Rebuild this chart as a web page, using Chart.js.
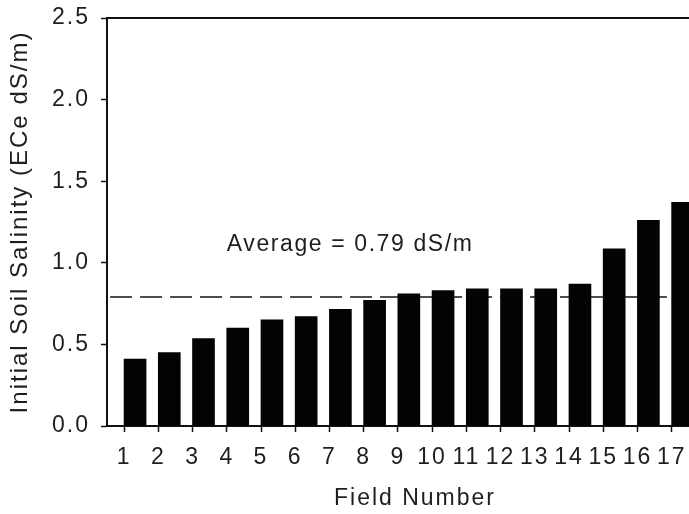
<!DOCTYPE html>
<html>
<head>
<meta charset="utf-8">
<script src="https://cdn.jsdelivr.net/npm/chart.js@4.4.1/dist/chart.umd.min.js"></script>
<style>
  html, body { margin: 0; padding: 0; background: #fff; overflow: hidden; }
  canvas { display: block; }
</style>
</head>
<body>
<!-- the original plot runs past the right edge of the picture, so the canvas is wider than the window -->
<canvas id="salinityChart" width="723" height="514"></canvas>
<script>
// field numbers and initial salinity (ECe dS/m)
const fieldNumbers = [1, 2, 3, 4, 5, 6, 7, 8, 9, 10, 11, 12, 13, 14, 15, 16, 17];
const salinityValues = [0.41, 0.45, 0.535, 0.60, 0.65, 0.67, 0.715, 0.77, 0.81, 0.83, 0.84, 0.84, 0.84, 0.87, 1.085, 1.26, 1.37];
const yTicks = [0, 0.5, 1.0, 1.5, 2.0, 2.5];

// average line and its label
const averageValue = 0.79;
const averageLineX = [0.59, 16.86];
const averageLabel = 'Average = 0.79 dS/m';
const averageLabelAt = { x: 4.0, y: 1.07 };

const textColor = '#1e1e1e';
const fontFamily = '"Liberation Sans", Arial, sans-serif';
const barShift = 0.32; // bars sit to the right of their tick in the original

// SigmaPlot-style wide letter spacing
const spacingPlugin = {
    id: 'spacing',
    beforeLayout(chart) { chart.ctx.letterSpacing = '2px'; },
    beforeDraw(chart) { chart.ctx.letterSpacing = '2px'; }
};

const averageTextPlugin = {
    id: 'averageText',
    afterDraw(chart) {
        const ctx = chart.ctx;
        const x = chart.scales.x.getPixelForValue(averageLabelAt.x);
        const y = chart.scales.y.getPixelForValue(averageLabelAt.y);
        ctx.save();
        ctx.letterSpacing = '1.6px';
        ctx.font = '23px ' + fontFamily;
        ctx.fillStyle = textColor;
        ctx.textAlign = 'left';
        ctx.textBaseline = 'alphabetic';
        ctx.fillText(averageLabel, x, y);
        ctx.restore();
    }
};

const ctx = document.getElementById('salinityChart').getContext('2d');
new Chart(ctx, {
    data: {
        datasets: [{
            type: 'bar',
            label: 'Initial salinity',
            data: fieldNumbers.map((f, i) => ({ x: f, y: salinityValues[i] })),
            xAxisID: 'xBar',
            yAxisID: 'y',
            backgroundColor: '#030303',
            borderWidth: 0,
            barThickness: 22,
            grouped: false,
            order: 0
        }, {
            type: 'line',
            label: 'Average',
            data: averageLineX.map(x => ({ x: x, y: averageValue })),
            xAxisID: 'x',
            yAxisID: 'y',
            borderColor: '#151515',
            borderWidth: 1.6,
            borderDash: [22, 8],
            pointRadius: 0,
            fill: false,
            order: 1
        }]
    },
    options: {
        responsive: false,
        animation: false,
        devicePixelRatio: 1,
        layout: { padding: { top: 18, left: 0, bottom: 0, right: 0 } },
        plugins: {
            legend: { display: false },
            tooltip: { enabled: false }
        },
        scales: {
            x: {
                type: 'linear',
                position: 'bottom',
                offset: false,
                min: 0.5,
                max: 18.5,
                afterBuildTicks: (scale) => { scale.ticks = fieldNumbers.map(v => ({ value: v })); },
                afterFit: (scale) => { scale.height = 88; },
                grid: { drawOnChartArea: false, drawTicks: true, tickLength: 6, tickColor: '#111', tickWidth: 1.5 },
                border: { display: true, color: '#111', width: 2 },
                ticks: {
                    autoSkip: false,
                    maxRotation: 0,
                    padding: 12,
                    color: textColor,
                    font: { family: fontFamily, size: 23 },
                    callback: (v) => String(v)
                },
                title: {
                    display: true,
                    text: 'Field Number',
                    color: textColor,
                    font: { family: fontFamily, size: 23 },
                    padding: { top: 0, bottom: 2 }
                }
            },
            xTop: {
                type: 'linear',
                position: 'top',
                offset: false,
                min: 0.5,
                max: 18.5,
                afterFit: (scale) => { scale.height = 0; },
                grid: { drawOnChartArea: false, drawTicks: false },
                border: { display: true, color: '#111', width: 2 },
                ticks: { display: false }
            },
            xBar: {
                type: 'linear',
                display: false,
                offset: false,
                min: 0.5 - barShift,
                max: 18.5 - barShift
            },
            y: {
                type: 'linear',
                position: 'left',
                min: 0,
                max: 2.5,
                afterBuildTicks: (scale) => { scale.ticks = yTicks.map(v => ({ value: v })); },
                afterFit: (scale) => {
                    scale.width = 107;
                    scale.paddingTop = 0;
                    scale.paddingBottom = 0;
                },
                grid: { drawOnChartArea: false, drawTicks: true, tickLength: 6, tickColor: '#111', tickWidth: 1.5 },
                border: { display: true, color: '#111', width: 2 },
                ticks: {
                    padding: 11,
                    color: textColor,
                    font: { family: fontFamily, size: 23 },
                    callback: (v) => v.toFixed(1)
                },
                title: {
                    display: true,
                    text: 'Initial Soil Salinity (ECe dS/m)',
                    color: textColor,
                    font: { family: fontFamily, size: 24 },
                    padding: { top: 6, bottom: 0 }
                }
            }
        }
    },
    plugins: [spacingPlugin, averageTextPlugin]
});
</script>
</body>
</html>
